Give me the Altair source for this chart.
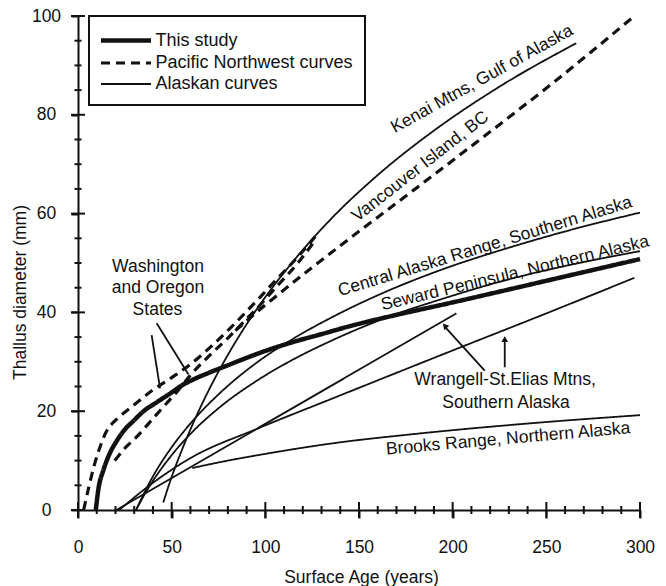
import altair as alt
import pandas as pd

# ---------------- data ----------------
kinds = ["This study", "Pacific Northwest curves", "Alaskan curves"]

this_x = [9.5, 11, 13.5, 17, 20.7, 25, 29.5, 35, 42, 50, 54.5, 62, 70, 80, 90, 100, 113, 130, 145, 170, 195, 225, 250, 275, 300]
this_y = [0, 4.5, 8, 11.5, 14, 16.3, 18, 20, 21.8, 23.8, 25, 26.5, 27.8, 29.3, 30.8, 32.2, 33.8, 35.6, 37.2, 39.5, 41.6, 44.2, 46.4, 48.6, 50.8]

wa1_x = [3, 6, 9, 12, 15, 18, 21, 30, 40, 50, 60, 75, 90, 97, 105, 118, 128]
wa1_y = [0, 5, 9.5, 13, 15.8, 17.4, 18.5, 21.3, 24.3, 26.8, 29.5, 34.5, 40.2, 43, 46.3, 51.5, 56]

wa2_x = [19.6, 25, 31.3, 40, 47.3, 53, 59.8, 70, 80, 90, 97, 105, 118, 127]
wa2_y = [10, 12.5, 14.8, 18.5, 21.6, 24, 27.2, 31.2, 34.8, 38.7, 41.4, 44.8, 50.3, 54.8]

van_x = [84, 100, 120, 140, 180, 216, 256, 297]
van_y = [36.3, 41.5, 47.6, 53.5, 65, 75.4, 87.2, 100]

kenai_x = [45.5, 50, 55, 60, 70, 80, 90, 100, 115, 134, 160, 190, 225, 266]
kenai_y = [1.5, 6.7, 11.7, 16.3, 24.4, 31.4, 37.6, 43.1, 50.4, 58.5, 67.8, 76.8, 85.7, 94.5]

central_x = [31, 35, 40, 50, 60, 75, 96, 115, 136, 165, 193, 230, 265, 300]
central_y = [0, 3.2, 6.8, 12.7, 17.5, 23.4, 30, 34.7, 39.1, 44.3, 48.5, 53.1, 56.9, 60.2]

seward_x = [31, 35, 40, 50, 60, 75, 96, 115, 136, 165, 195, 230, 265, 300]
seward_y = [0, 2.8, 5.9, 11.1, 15.4, 20.6, 26.3, 30.5, 34.4, 39.0, 42.8, 46.7, 49.8, 52.4]

wrang1_x = [20.5, 202]
wrang1_y = [0, 39.8]

wrang2_x = [22, 40, 60, 96, 136, 200, 250, 297]
wrang2_y = [0, 5.5, 10.5, 16.5, 22.6, 32.3, 39.8, 47]

brooks_x = [61, 80, 96, 136, 180, 240, 300]
brooks_y = [8.5, 10, 11.1, 13.5, 15.4, 17.5, 19.2]

curves = [
    ("This study", kinds[0], this_x, this_y),
    ("Washington 1", kinds[1], wa1_x, wa1_y),
    ("Washington 2", kinds[1], wa2_x, wa2_y),
    ("Vancouver Island", kinds[1], van_x, van_y),
    ("Kenai", kinds[2], kenai_x, kenai_y),
    ("Central Alaska", kinds[2], central_x, central_y),
    ("Seward", kinds[2], seward_x, seward_y),
    ("Wrangell 1", kinds[2], wrang1_x, wrang1_y),
    ("Wrangell 2", kinds[2], wrang2_x, wrang2_y),
    ("Brooks", kinds[2], brooks_x, brooks_y),
]

# curve labels: text, centre x, centre y, rotation
label_text = ["Kenai Mtns, Gulf of Alaska", "Vancouver Island, BC",
              "Central Alaska Range, Southern Alaska", "Seward Peninsula, Northern Alaska",
              "Brooks Range, Northern Alaska", "Wrangell-St.Elias Mtns,", "Southern Alaska",
              "Washington", "and Oregon", "States"]
label_x = [215.7, 182.8, 217.3, 233.3, 229.6, 228, 228.5, 42.7, 42.7, 42.4]
label_y = [87.2, 69.5, 53.3, 47.9, 14.4, 26.3, 21.7, 49.2, 44.9, 40.5]
label_angle = [331, 322, 343, 346.5, 355, 0, 0, 0, 0, 0]

# pointer lines (start -> end)
arrow_x1 = [39.3, 42.0, 217.1, 227.8]
arrow_y1 = [35.4, 37.8, 28.2, 28.9]
arrow_x2 = [43.8, 58.9, 196.5, 227.8]
arrow_y2 = [24.6, 27.5, 36.8, 34.0]
head_x = [195.8, 227.8]
head_y = [37.3, 34.6]
head_angle = [318, 0]

# axis ticks: major (labelled) and minor values
x_major = [0, 50, 100, 150, 200, 250, 300]
x_minor = [10, 20, 30, 40, 60, 70, 80, 90, 110, 120, 130, 140, 160, 170, 180, 190,
           210, 220, 230, 240, 260, 270, 280, 290]
y_major = [0, 20, 40, 60, 80, 100]
y_minor = [5, 10, 15, 25, 30, 35, 45, 50, 55, 65, 70, 75, 85, 90, 95]
tick_len = {"x_major": 16, "x_minor": 8, "y_major": 14, "y_minor": 7}

# ---------------- build tables ----------------
rows = []
for name, kind, xs, ys in curves:
    for i, (a, b) in enumerate(zip(xs, ys)):
        rows.append({"curve": name, "kind": kind, "x": a, "y": b, "order": i})
df = pd.DataFrame(rows)
labels = pd.DataFrame({"text": label_text, "x": label_x, "y": label_y, "angle": label_angle})
heads = pd.DataFrame({"x": head_x, "y": head_y, "angle": head_angle})
arrows = pd.DataFrame({"x": arrow_x1, "y": arrow_y1, "x2": arrow_x2, "y2": arrow_y2})

xt_df = pd.DataFrame(
    [{"v": float(v), "at": 0.0, "len": tick_len["x_major"]} for v in x_major] +
    [{"v": float(v), "at": 0.0, "len": tick_len["x_minor"]} for v in x_minor])
yt_df = pd.DataFrame(
    [{"v": float(v), "at": 0.0, "len": tick_len["y_major"]} for v in y_major] +
    [{"v": float(v), "at": 0.0, "len": tick_len["y_minor"]} for v in y_minor])

W, H = 562, 494
INK = "#111111"
FONT = "Liberation Sans"
xscale = alt.Scale(domain=[0, 300], nice=False, zero=False)
yscale = alt.Scale(domain=[0, 100], nice=False, zero=False)

legend = alt.Legend(title=None, orient="none", legendX=11, legendY=0, direction="vertical",
                    symbolType="M-2.5,0H2.5", symbolSize=400, symbolOffset=12.5,
                    symbolStrokeColor=INK, symbolFillColor="transparent",
                    labelFont=FONT, labelFontSize=18, labelColor=INK, labelOffset=17,
                    labelLimit=0, padding=12, rowPadding=1, strokeColor=INK, fillColor="white")

x_axis = alt.Axis(
    values=x_major, grid=False, domainColor=INK, domainWidth=2,
    ticks=True, tickColor=INK, tickWidth=2, tickSize=8,
    labelFont=FONT, labelFontSize=17.5, labelColor=INK, labelPadding=29,
    labelBaseline="middle", labelFlush=False,
    title="Surface Age (years)", titleFont=FONT, titleFontSize=17.5, titleFontWeight="normal",
    titleColor=INK, titleY=67, titleX=283, titleBaseline="middle")

y_axis = alt.Axis(
    values=y_major, grid=False, domainColor=INK, domainWidth=2,
    ticks=True, tickColor=INK, tickWidth=2, tickSize=7,
    labelFont=FONT, labelFontSize=17.5, labelColor=INK, labelPadding=25,
    labelAlign="center", labelBaseline="middle", labelFlush=False,
    title="Thallus diameter (mm)", titleFont=FONT, titleFontSize=17.5, titleFontWeight="normal",
    titleColor=INK, titleX=-58, titleY=276, titleAngle=270, titleAlign="center",
    titleBaseline="middle")

lines = alt.Chart(df).mark_line(interpolate="monotone", color=INK).encode(
    x=alt.X("x:Q", scale=xscale, axis=x_axis),
    y=alt.Y("y:Q", scale=yscale, axis=y_axis),
    detail="curve:N",
    order="order:Q",
    strokeDash=alt.StrokeDash("kind:N", sort=kinds,
                              scale=alt.Scale(domain=kinds, range=[[1, 0], [9, 6], [1, 0]]),
                              legend=legend),
    strokeWidth=alt.StrokeWidth("kind:O", sort=kinds,
                                scale=alt.Scale(domain=kinds, range=[4.5, 1.8, 1.8]),
                                legend=legend),
)

xticks = alt.Chart(xt_df).mark_tick(color=INK, thickness=2, orient="vertical", opacity=1).encode(
    x=alt.X("v:Q", scale=xscale), y=alt.Y("at:Q", scale=yscale),
    size=alt.Size("len:Q", scale=None, legend=None))
yticks = alt.Chart(yt_df).mark_tick(color=INK, thickness=2, orient="horizontal", opacity=1).encode(
    y=alt.Y("v:Q", scale=yscale), x=alt.X("at:Q", scale=xscale),
    size=alt.Size("len:Q", scale=None, legend=None))

text = alt.Chart(labels).mark_text(font=FONT, fontSize=17.5, color=INK, align="center",
                                   baseline="middle").encode(
    x=alt.X("x:Q", scale=xscale), y=alt.Y("y:Q", scale=yscale),
    text="text:N", angle=alt.Angle("angle:Q", scale=None))

arrow_lines = alt.Chart(arrows).mark_rule(color=INK, strokeWidth=1.8).encode(
    x=alt.X("x:Q", scale=xscale), y=alt.Y("y:Q", scale=yscale), x2="x2:Q", y2="y2:Q")

arrow_heads = alt.Chart(heads).mark_point(shape="triangle-up", filled=True, color=INK,
                                          size=45, opacity=1).encode(
    x=alt.X("x:Q", scale=xscale), y=alt.Y("y:Q", scale=yscale),
    angle=alt.Angle("angle:Q", scale=None))

chart = alt.layer(lines, arrow_lines, arrow_heads, text, xticks, yticks).properties(
    width=W, height=H,
    autosize=alt.AutoSizeParams(type="none"),
    padding={"left": 78, "top": 16, "right": 26, "bottom": 76},
    background="white",
).configure_view(stroke=None).configure_legend(strokeWidth=2)

chart.save("out.html", embed_options={"renderer": "svg", "actions": False})
